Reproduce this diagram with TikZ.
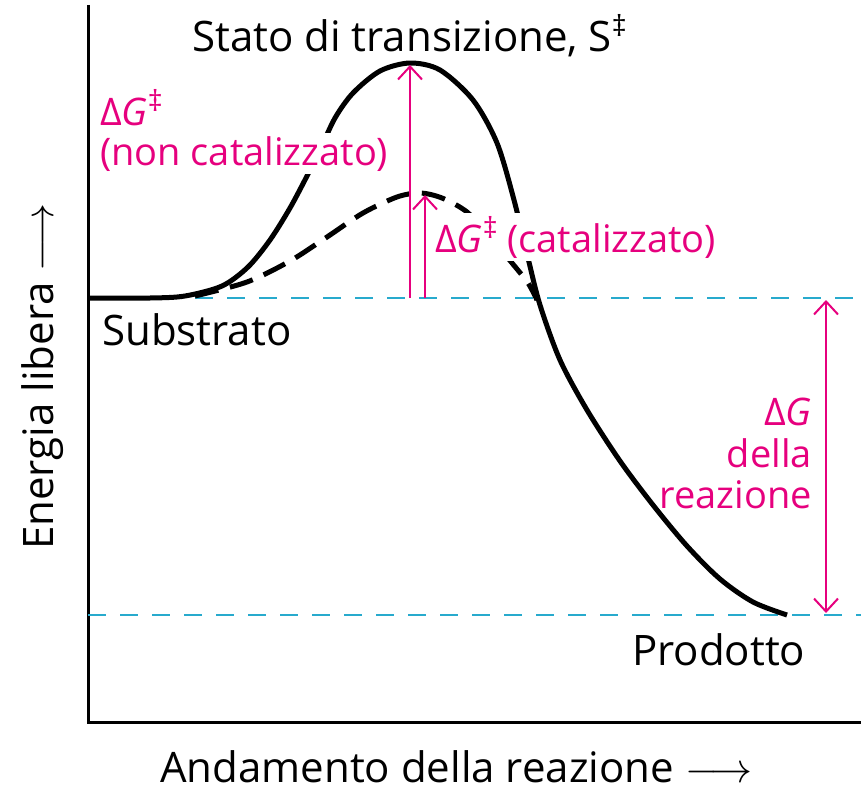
\RequirePackage{fix-cm}
\documentclass[tikz,border=0pt]{standalone}
\usepackage{fontspec}
\setmainfont{Open Sans}
\usetikzlibrary{arrows.meta}
\definecolor{mag}{RGB}{230,0,126}
\definecolor{cy}{RGB}{40,170,205}
\newcommand{\mydag}{\raisebox{0.36em}{\fontsize{29}{29}\selectfont ‡}}
\newcommand{\mydG}{Δ\textit{G}}
\begin{document}
\begin{tikzpicture}[x=1pt,y=-1pt,
  lbl/.style={font=\fontsize{42}{46}\selectfont, inner sep=0pt},
  pinklbl/.style={font=\fontsize{38}{42}\selectfont, inner sep=3pt, text=mag, fill=white},
  guide/.style={cy, line width=2.2pt, dash pattern=on 18pt off 14pt},
  curve/.style={line width=5pt, line join=round},
  parrow/.style={mag, line width=2pt, -{Straight Barb[length=13pt,width=24pt,line width=2pt]}},
  axis/.style={line width=3pt}
]
\useasboundingbox (0,0) rectangle (861,792);
% axes
\coordinate (ytop) at (88,5);
\coordinate (orig) at (88,722);
\coordinate (xend) at (861,722);
\draw[axis] (ytop) -- (orig) -- (xend);
% guide lines
\coordinate (subL) at (195,298);
\coordinate (subR) at (861,298);
\coordinate (proL) at (88,615);
\coordinate (proR) at (861,615);
\draw[guide] (subL) -- (subR);
\draw[guide] (proL) -- (proR);
% curves
\draw[curve] plot[smooth, tension=0.5] coordinates {(88,298) (150,298) (185,296) (222,286) (248,267) (270,240) (290,208) (307,176) (320,150) (335,118) (353,93) (380,71) (410,63) (440,70) (473,100) (497,143) (514,200) (528,258) (540,305) (560,360) (587,410) (620,461) (653,505) (687,546) (720,579) (753,602) (787,615)};
\draw[curve, dash pattern=on 24pt off 12pt] plot[smooth, tension=0.5] coordinates {(195,296) (247,282) (290,261) (327,237) (363,213) (397,197) (420,193) (442,198) (467,212) (490,237) (512,263) (528,283) (537,300)};
% arrows
\coordinate (a1b) at (410,298);
\coordinate (a1t) at (410,65);
\coordinate (a2b) at (425,298);
\coordinate (a2t) at (425,195);
\coordinate (a3t) at (826,300);
\coordinate (a3b) at (826,613);
\draw[parrow] (a1b) -- (a1t);
\draw[parrow] (a2b) -- (a2t);
\draw[parrow, {Straight Barb[length=13pt,width=24pt,line width=2pt]}-{Straight Barb[length=13pt,width=24pt,line width=2pt]}] (a3t) -- (a3b);
% labels
\node[lbl, anchor=base west] (ts) at (192,52) {Stato di transizione, S\mydag};
\node[pinklbl, anchor=base west] (dgn) at (97,125) {\mydG\mydag};
\node[pinklbl, anchor=base west] (nc) at (97,165) {(non catalizzato)};
\node[pinklbl, anchor=base west] (dgc) at (432,252) {\mydG\mydag{} (catalizzato)};
\node[lbl, anchor=base west] (sub) at (102,345) {Substrato};
\node[pinklbl, anchor=base east, fill=none] (dg1) at (815,425) {\mydG};
\node[pinklbl, anchor=base east, fill=none] (dg2) at (815,467) {della};
\node[pinklbl, anchor=base east, fill=none] (dg3) at (815,508) {reazione};
\node[lbl, anchor=base west] (pro) at (632,665) {Prodotto};
\node[lbl, anchor=base west, rotate=90] (ylab) at (53,550) {Energia libera $\longrightarrow$};
\node[lbl, anchor=base west] (xlab) at (160,782) {Andamento della reazione $\longrightarrow$};
\end{tikzpicture}
\end{document}
